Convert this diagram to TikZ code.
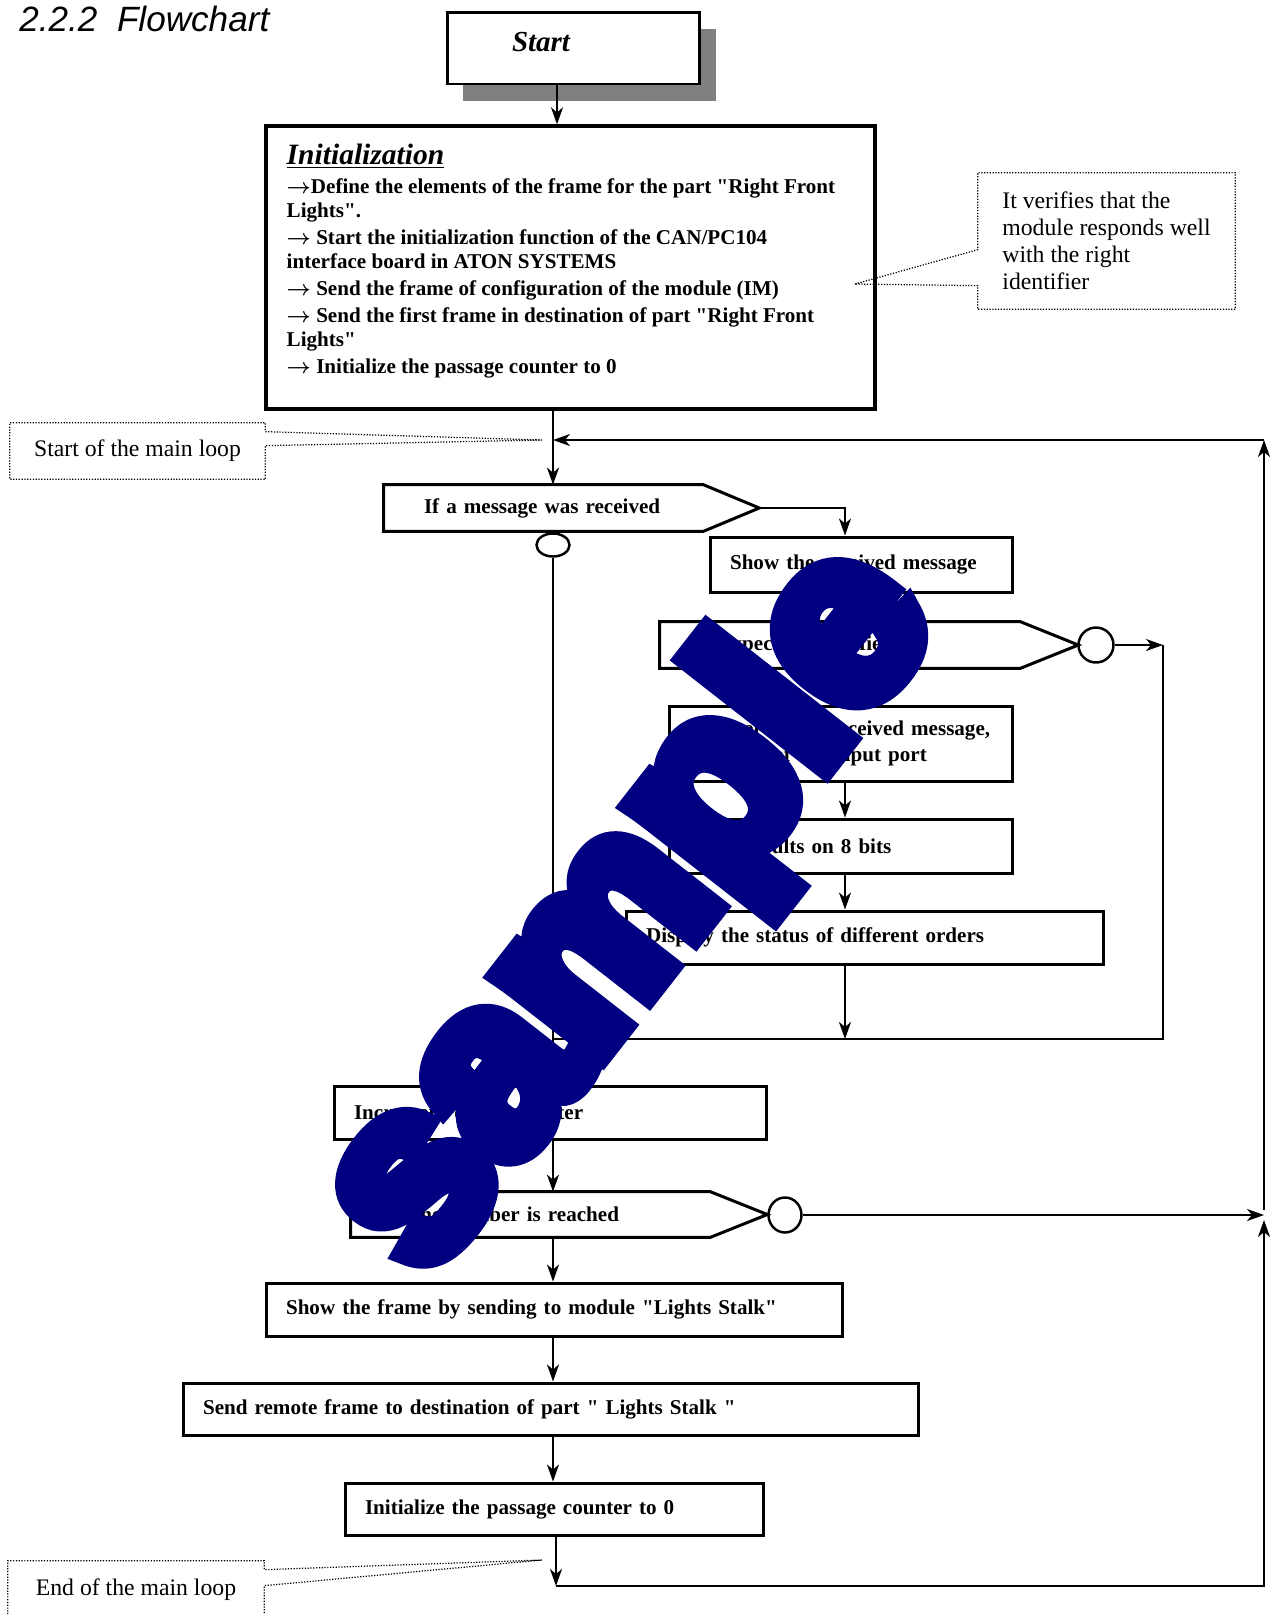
\documentclass[tikz,border=0pt]{standalone}
\usepackage{fontspec}
\setmainfont{Liberation Serif}[Ligatures=TeXOff]
\newfontfamily\arialfont{Liberation Sans}
\usetikzlibrary{arrows.meta,positioning,calc,shapes.geometric,shadows}
\definecolor{wmblue}{RGB}{0,0,128}
\definecolor{shadowgray}{RGB}{128,128,128}
\newcommand{\initarrow}{\mbox{\boldmath$\rightarrow$}}

\begin{document}
\begin{tikzpicture}[
  x=0.02cm, y=-0.02cm,
  font=\bfseries\fontsize{12}{14.5}\selectfont,
  box/.style={
    draw,
    line width=1.7pt,
    align=left,
    inner xsep=0.4cm,
    inner ysep=0pt
  },
  cond/.style={align=left, inner xsep=0.8cm, inner ysep=0pt, minimum height=0.92cm},
  condline/.style={line width=1.7pt, line join=miter},
  joint/.style={draw, ellipse, line width=1.4pt, inner sep=0pt},
  note/.style={align=left, inner sep=0pt, font=\mdseries\fontsize{13.5}{15.4}\selectfont},
  noteline/.style={line width=0.7pt, dash pattern=on 0.7pt off 0.9pt},
  arrow/.style={-{Stealth[length=3.4mm,width=2.4mm,inset=1mm]}, line width=1.2pt}
]
\useasboundingbox (0,0) rectangle (1273,1614);
\clip (0,0) rectangle (1273,1614);
\fill[white] (0,0) rectangle (1273,1614);

% columns
\coordinate (col0) at (557,0);
\coordinate (col) at (553,0);
\coordinate (col2) at (845,0);

\node[anchor=base west, inner sep=0, font=\arialfont\mdseries\itshape\fontsize{20}{24}\selectfont] (title) at (19,31) {2.2.2~~Flowchart};

\node[box, fill=white, text width=2.46cm, inner xsep=1.3cm, minimum height=1.44cm, text depth=0.24cm,
  font=\bfseries\itshape\fontsize{16.5}{18}\selectfont,
  drop shadow={shadow xshift=0.32cm, shadow yshift=-0.34cm, fill=shadowgray, opacity=1}] (start) at (573.5,48) {Start};

\node[draw, line width=1.9pt, minimum width=12.18cm, minimum height=5.66cm] (init) at (570.5,267.5) {};
\node[anchor=north west, align=left, inner sep=0, font=\bfseries\fontsize{12}{13.7}\selectfont] (inittxt) at ($(init.north west)+(22,19)$) {%
{\fontsize{16.8}{18}\selectfont\itshape\underline{Initialization}}\\[2.8pt]
\initarrow Define the elements of the frame for the part "Right Front\\
Lights".\\[1.7pt]
\initarrow{} Start the initialization function of the CAN/PC104\\
interface board in ATON SYSTEMS\\[1.7pt]
\initarrow{} Send the frame of configuration of the module (IM)\\[1.7pt]
\initarrow{} Send the first frame in destination of part "Right Front\\
Lights"\\[1.7pt]
\initarrow{} Initialize the passage counter to 0};

% notes
\node[note, minimum width=5.14cm, minimum height=2.72cm] (n1) at (1106.5,241) {It verifies that the\\module responds well\\with the right\\identifier};
\coordinate (n1tip) at (855,284);
\draw[noteline] (n1tip) -- ($(n1.north west)+(0,77)$) -- (n1.north west) -- (n1.north east) -- (n1.south east) -- (n1.south west) -- ($(n1.north west)+(0,113)$) -- cycle;

\node[note, minimum width=5.1cm, minimum height=1.12cm] (n2) at (137.5,451) {Start of the main loop};
\coordinate (n2tip) at (542,440);
\draw[noteline] (n2tip) -- ($(n2.north east)+(0,9)$) -- (n2.north east) -- (n2.north west) -- (n2.south west) -- (n2.south east) -- ($(n2.north east)+(0,23)$) -- cycle;

\node[note, minimum width=5.12cm, minimum height=1.14cm] (n3) at (136,1589.5) {End of the main loop};
\coordinate (n3tip) at (542,1560);
\draw[noteline] (n3tip) -- ($(n3.north east)+(0,9)$) -- (n3.north east) -- (n3.north west) -- (n3.south west) -- (n3.south east) -- ($(n3.north east)+(0,25)$) -- cycle;

% first test
\node[cond, text width=4.78cm] (d1) at (543.5,508) {If a message was received};
\coordinate (d1tip) at ($(d1.east)+(56,0)$);
\draw[condline] (d1.north west) -- (d1.north east) -- (d1tip) -- (d1.south east) -- (d1.south west) -- cycle;
\node[joint, minimum width=0.66cm, minimum height=0.46cm] (o1) at (553,545) {};

\node[box, text width=5.26cm, minimum height=1.1cm] (showrx) at (861.5,564.5) {Show the received message};

\node[cond, text width=5.6cm] (d2) at (840,645) {If expected identifier};
\coordinate (d2tip) at ($(d2.east)+(58,0)$);
\draw[condline] (d2.north west) -- (d2.north east) -- (d2tip) -- (d2.south east) -- (d2.south west) -- cycle;
\node[joint, minimum width=0.7cm, minimum height=0.7cm] (c1) at (1096,645) {};

\node[box, text width=6.08cm, minimum height=1.5cm] (recov) at (841,743.5) {Recover in the received message,\\the state of the input port};
\node[box, text width=6.08cm, minimum height=1.08cm] (bits) at (841,846) {Show results on 8 bits};
\node[box, text width=8.76cm, minimum height=1.06cm] (status) at (865,937.5) {Display the status of different orders};

\node[box, text width=7.86cm, minimum height=1.06cm] (inc) at (550.5,1112.5) {Increment of the counter};

\node[cond, text width=5.58cm, minimum height=0.9cm] (d3) at (530.5,1214.5) {If the number is reached};
\coordinate (d3tip) at ($(d3.east)+(57,0)$);
\draw[condline] (d3.north west) -- (d3.north east) -- (d3tip) -- (d3.south east) -- (d3.south west) -- cycle;
\node[joint, minimum width=0.66cm, minimum height=0.7cm] (c2) at (785,1215) {};

\node[box, text width=10.74cm, minimum height=1.06cm] (frame) at (554.5,1309.5) {Show the frame by sending to module "Lights Stalk"};
\node[box, text width=13.92cm, minimum height=1.04cm] (remote) at (551,1409) {Send remote frame to destination of part " Lights Stalk "};
\node[box, text width=7.58cm, minimum height=1.04cm] (ini0) at (554.5,1509) {Initialize the passage counter to 0};

% loop corners
\coordinate (loopin) at (553,440);
\coordinate (tr) at (1264,440);
\coordinate (j2) at (1264,1215);
\coordinate (br) at (1264,1586);
\coordinate (bl) at (556,1586);
\coordinate (rj) at (1163,1039);
\coordinate (mj) at (553,1039);

\draw[arrow] (start.south -| col0) -- (init.north -| col0);
\draw[arrow] (init.south -| col) -- (d1.north -| col);
\draw[arrow] (tr) -- (loopin);
\draw[arrow] (o1.south) -- (inc.north -| o1);
\draw[arrow] (d1tip) -- (d1tip -| col2) -- (showrx.north -| col2);
\draw[arrow] (showrx.south -| col2) -- (d2.north -| col2);
\draw[arrow] (d2.south -| col2) -- (recov.north -| col2);
\draw[arrow] (recov.south -| col2) -- (bits.north -| col2);
\draw[arrow] (bits.south -| col2) -- (status.north -| col2);
\draw[arrow] (status.south -| col2) -- (mj -| col2);
\draw[arrow] (c1.east) -- (c1 -| rj);
\draw[line width=1.2pt] (c1 -| rj) -- (rj) -- (mj);
\draw[arrow] (inc.south -| col) -- (d3.north -| col);
\draw[arrow] (d3.south -| col) -- (frame.north -| col);
\draw[arrow] (frame.south -| col) -- (remote.north -| col);
\draw[arrow] (remote.south -| col) -- (ini0.north -| col);
\draw[arrow] (ini0.south -| bl) -- (bl);
\draw[arrow] (bl) -- (br) -- ($(j2)+(0,5)$);
\draw[arrow] (c2.east) -- (j2);
\draw[arrow] ($(j2)+(0,-5)$) -- (tr);

% watermark
\node[inner sep=0, rotate=52, text=wmblue, font=\arialfont\bfseries\fontsize{138}{138}\selectfont] (wm) at (633,911) {\special{pdf:literal direct 2 Tr 14 w 0 j}sample\special{pdf:literal direct 0 Tr}};

\end{tikzpicture}
\end{document}
